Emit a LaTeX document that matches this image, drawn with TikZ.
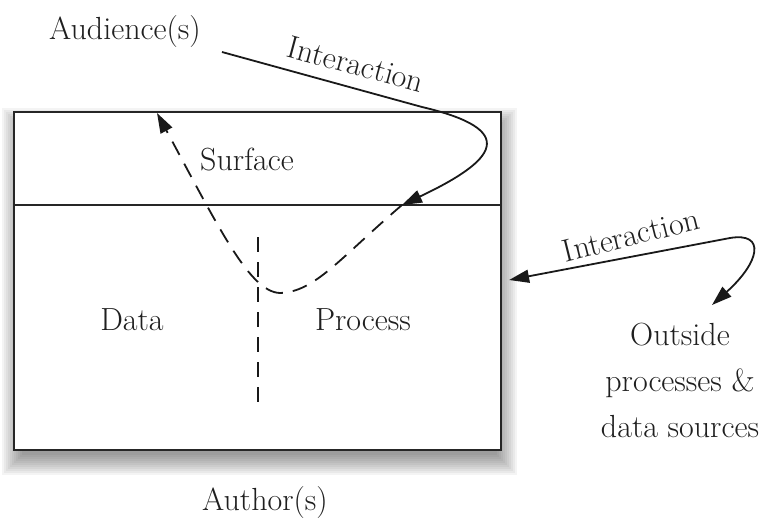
\documentclass[tikz,border=0pt]{standalone}
\usetikzlibrary{arrows.meta,calc}
\begin{document}
\begin{tikzpicture}[x=1pt,y=-1pt,
  lbl/.style={font=\fontsize{32}{46}\selectfont, text=black!88, inner sep=0pt, align=center},
  frame/.style={draw=black!85, line width=2.2pt, fill=white, inner sep=0pt},
  conn/.style={line width=1.8pt, draw=black!90},
  tip/.style={-{Triangle[length=20pt,width=13pt]}},
  dtip/.style={{Triangle[length=20pt,width=13pt]}-{Triangle[length=20pt,width=13pt]}},
  dashline/.style={line width=1.8pt, draw=black!90, dash pattern=on 15pt off 10pt}
]
\useasboundingbox (0,0) rectangle (768,519);
% soft shadow
\foreach \e in {-6,-4,...,14}{
  \fill[black, opacity=0.045] (16-\e,122-\e) rectangle (503+\e,461+\e);
}
\node[frame, minimum width=487pt, minimum height=338pt] (box) at (257.5,281) {};
\coordinate (dl) at (box.west |- 0,205);
\coordinate (dr) at (box.east |- 0,205);
\draw[line width=1.6pt, draw=black!85] (dl) -- (dr);

\node[lbl] (aud) at (125,32) {Audience(s)};
\node[lbl, rotate=-15] (int1) at (356,64) {Interaction};
\node[lbl] (surf) at (247,160) {Surface};
\node[lbl] (data) at (132,320) {Data};
\node[lbl] (proc) at (363,320) {Process};
\node[lbl] (auth) at (265,503) {Author(s)};
\node[lbl, rotate=14] (int2) at (631,235) {Interaction};
\node[lbl] (out) at (680,380) {Outside\\processes \&\\data sources};

% audience interaction arrow
\coordinate (a0) at ($(aud.east)+(21,20)$);
\coordinate (a1) at (422,107);
\coordinate (entry) at (402,205);
\draw[conn, tip] (a0) -- (a1) .. controls (520,130) and (497,160) .. (entry);

% dashed path through process and data to surface
\coordinate (vmin) at (280,293);
\coordinate (stop) at (157,113);
\draw[dashline] (entry) .. controls (340,258) and (315,292) .. (vmin);
\draw[dashline, tip] (vmin) .. controls (250,292) and (220,230) .. (stop);

% vertical dashed divider
\coordinate (v1) at (258,237);
\coordinate (v2) at (258,410);
\draw[dashline] (v1) -- (v2);

% outside interaction
\coordinate (b0) at ($(box.east)+(7,-1)$);
\coordinate (b1) at (730,238);
\coordinate (b2) at (712,305);
\draw[conn, dtip] (b0) -- (b1) .. controls (766,232) and (760,262) .. (b2);
\end{tikzpicture}
\end{document}
